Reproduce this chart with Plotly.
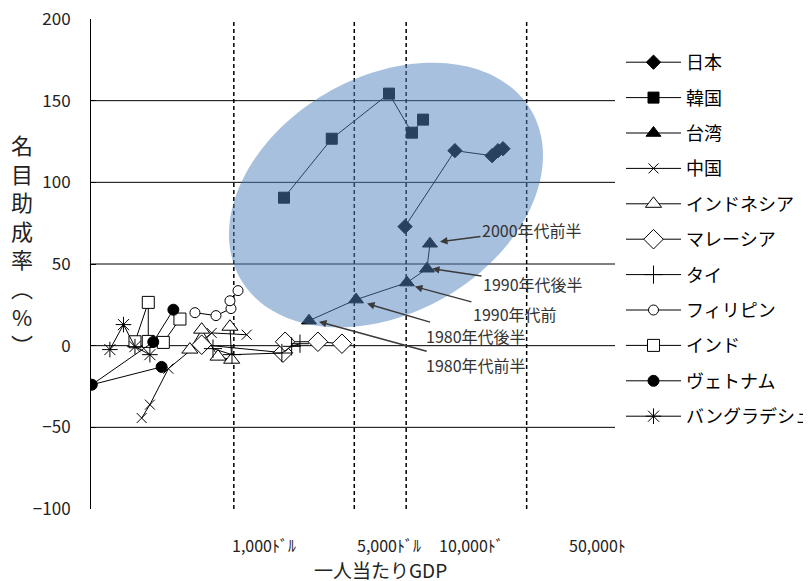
import numpy as np
import plotly.graph_objects as go

# ---------------- data ----------------
countries = ["日本", "韓国", "台湾", "中国", "インドネシア", "マレーシア",
             "タイ", "フィリピン", "インド", "ヴェトナム", "バングラデシュ"]

japan_gdp = [9850, 19180, 31500, 34100, 36450]
japan_rate = [72.9, 119.4, 116.3, 119.4, 120.6]

korea_gdp = [1955, 3700, 7950, 10800, 12530]
korea_rate = [90.6, 126.7, 154.3, 130.4, 138.4]

taiwan_gdp = [2730, 5120, 10100, 13200, 13740]
taiwan_rate = [15.3, 28.2, 38.6, 47.1, 62.4]

china_gdp = [292, 326, 417, 744, 1188]
china_rate = [-44.3, -36.1, -14.1, 7.8, 6.7]

indonesia_gdp = [556, 651, 810, 972, 950]
indonesia_rate = [-2.4, 9.8, -6.7, -8.6, 11.6]

malaysia_gdp = [651, 1929, 1985, 3075, 4240]
malaysia_rate = [0.6, -4.3, 2.4, 2.4, 1.2]

thailand_gdp = [757, 976, 1900, 2166, 2420]
thailand_rate = [-1.8, -5.5, -4.5, -0.4, 1.2]

philippines_gdp = [595, 788, 963, 950, 1058]
philippines_rate = [20.2, 18.4, 22.7, 27.5, 33.7]

india_gdp = [267, 319, 319, 390, 487]
india_rate = [2.4, 26.5, 2.6, 2.0, 16.3]

vietnam_gdp = [381, 150, 341, 446]
vietnam_rate = [-13.0, -23.9, 2.3, 22.0]

bangladesh_gdp = [191, 229, 267, 326]
bangladesh_rate = [-2.4, 12.9, -0.6, -5.5]

guide_gdp = [1000, 5000, 10000, 50000]
guide_labels = ["1,000ﾄﾞﾙ", "5,000ﾄﾞﾙ", "10,000ﾄﾞ", "50,000ﾄ"]

period_labels = ["1980年代前半", "1980年代後半", "1990年代前", "1990年代後半", "2000年代前半"]

y_ticks = [-100, -50, 0, 50, 100, 150, 200]
grid_values = [-50, 0, 50, 100, 150]

series_gdp = [japan_gdp, korea_gdp, taiwan_gdp, china_gdp, indonesia_gdp, malaysia_gdp,
              thailand_gdp, philippines_gdp, india_gdp, vietnam_gdp, bangladesh_gdp]
series_rate = [japan_rate, korea_rate, taiwan_rate, china_rate, indonesia_rate, malaysia_rate,
               thailand_rate, philippines_rate, india_rate, vietnam_rate, bangladesh_rate]

# ---------------- styles ----------------
styles = [
    dict(symbol="diamond", size=11, color="black"),
    dict(symbol="square", size=11, color="black"),
    dict(symbol="triangle-up", size=13, color="black"),
    dict(symbol="x-thin", size=10, color="black"),
    dict(symbol="triangle-up", size=14, color="white"),
    dict(symbol="diamond", size=15, color="white"),
    dict(symbol="cross-thin", size=13, color="black"),
    dict(symbol="circle", size=10, color="white"),
    dict(symbol="square", size=12, color="white"),
    dict(symbol="circle", size=11, color="black"),
    dict(symbol="asterisk", size=13, color="black"),
]

FONT = "Noto Sans CJK JP"

# page offset (default body margin of the html page)
OFF = 8
FIG_W, FIG_H = 811 - OFF, 581 - OFF

fig = go.Figure()

# dashed guide lines
gx, gy = [], []
for g in guide_gdp:
    gx += [g, g, None]
    gy += [y_ticks[0], y_ticks[-1], None]
fig.add_trace(go.Scatter(x=gx, y=gy, mode="lines", showlegend=False, hoverinfo="skip",
                         line=dict(color="black", width=1.5, dash="4px,3px")))

for i, name in enumerate(countries):
    st = styles[i]
    fig.add_trace(go.Scatter(
        x=series_gdp[i], y=series_rate[i], mode="lines+markers", name=name,
        legendgroup=name,
        line=dict(color="black", width=1),
        marker=dict(symbol=st["symbol"], size=st["size"], color=st["color"],
                    line=dict(color="black", width=1)),
    ))

# plot-area geometry (screen pixels)
L, R, T, B = 91, 615, 19, 509
W, H = R - L, B - T


def px2paper(px, py):
    return (px - L) / W, (B - py) / H


# ellipse highlight (semi-transparent, drawn above the data)
cx, cy, a, b = 386, 195, 168, 118
ang = np.deg2rad(-30)
t = np.linspace(0, 2 * np.pi, 160)
ex = cx + a * np.cos(t) * np.cos(ang) - b * np.sin(t) * np.sin(ang)
ey = cy + a * np.cos(t) * np.sin(ang) + b * np.sin(t) * np.cos(ang)
pts = [px2paper(x, y) for x, y in zip(ex, ey)]
path = "M " + " L ".join(f"{x:.4f},{y:.4f}" for x, y in pts) + " Z"

shapes = []
for gv in grid_values:
    shapes.append(dict(type="line", xref="paper", x0=0, x1=1, yref="y", y0=gv, y1=gv,
                       line=dict(color="black", width=1), layer="below"))
shapes.append(dict(type="path", path=path, xref="paper", yref="paper",
                   fillcolor="rgba(79,129,189,0.5)", line=dict(width=0), layer="above"))

annotations = []
# arrows + period labels pointing at Taiwan points
arrow_cfg = [  # xshift, yshift, ax, ay
    (10, -1, 157, 43),
    (11, -4, 109, 32),
    (8, -4, 100, 27),
    (5, 0, 101, 15),
    (10, 2, 92, -12),
]
for i, lab in enumerate(period_labels):
    xs, ys, ax_, ay_ = arrow_cfg[i]
    annotations.append(dict(
        x=np.log10(taiwan_gdp[i]), y=taiwan_rate[i], xref="x", yref="y",
        text=lab, showarrow=True, arrowhead=2, arrowsize=1, arrowwidth=1.5,
        arrowcolor="#3a3a3a", ax=ax_, ay=ay_, axref="pixel", ayref="pixel",
        xshift=xs, yshift=ys, font=dict(family=FONT, size=16, color="#333333")))

# guide labels under the axis
label_px = [230, 355, 437, 567]
for lab, lx in zip(guide_labels, label_px):
    x0, _ = px2paper(lx, 0)
    annotations.append(dict(x=x0, y=0, xref="paper", yref="paper", yshift=-36,
                            text=lab, showarrow=False, xanchor="left", yanchor="middle",
                            font=dict(family=FONT, size=16, color="#222222")))

# x title
annotations.append(dict(x=px2paper(380, 0)[0], y=0, xref="paper", yref="paper", yshift=-60,
                        text="一人当たりGDP", showarrow=False, xanchor="center", yanchor="middle",
                        font=dict(family=FONT, size=19, color="#222222")))
# y title (vertical)
annotations.append(dict(x=px2paper(22, 0)[0], y=px2paper(0, 244)[1], xref="paper", yref="paper",
                        text="<br>".join(list("名目助成率") + ["︵", "%", "︶"]),
                        showarrow=False, xanchor="center", yanchor="middle",
                        font=dict(family=FONT, size=22, color="#222222")))

fig.update_layout(
    width=FIG_W, height=FIG_H, autosize=False,
    margin=dict(l=L - OFF, r=811 - R, t=T - OFF, b=581 - B, pad=0, autoexpand=False),
    paper_bgcolor="white", plot_bgcolor="white",
    font=dict(family=FONT, color="black"),
    showlegend=True,
    legend=dict(x=px2paper(621, 0)[0], xanchor="left", y=px2paper(0, 44)[1], yanchor="top",
                traceorder="grouped", tracegroupgap=9, itemwidth=55,
                font=dict(family=FONT, size=18, color="black"),
                bgcolor="rgba(0,0,0,0)", borderwidth=0),
    shapes=shapes,
    annotations=annotations,
    xaxis=dict(type="log", range=[5 / np.log(10), 12 / np.log(10)], automargin=False,
               showgrid=False, zeroline=False, showline=False, showticklabels=False,
               ticks=""),
    yaxis=dict(range=[y_ticks[0], y_ticks[-1]], tickvals=y_ticks, showgrid=False,
               automargin=False, ticklabeloverflow="allow",
               zeroline=False, showline=True, linecolor="black", linewidth=1,
               ticks="inside", ticklen=5, tickcolor="black",
               ticklabelstandoff=16,
               tickfont=dict(family=FONT, size=17, color="#222222")),
)

fig.write_html("out.html")
